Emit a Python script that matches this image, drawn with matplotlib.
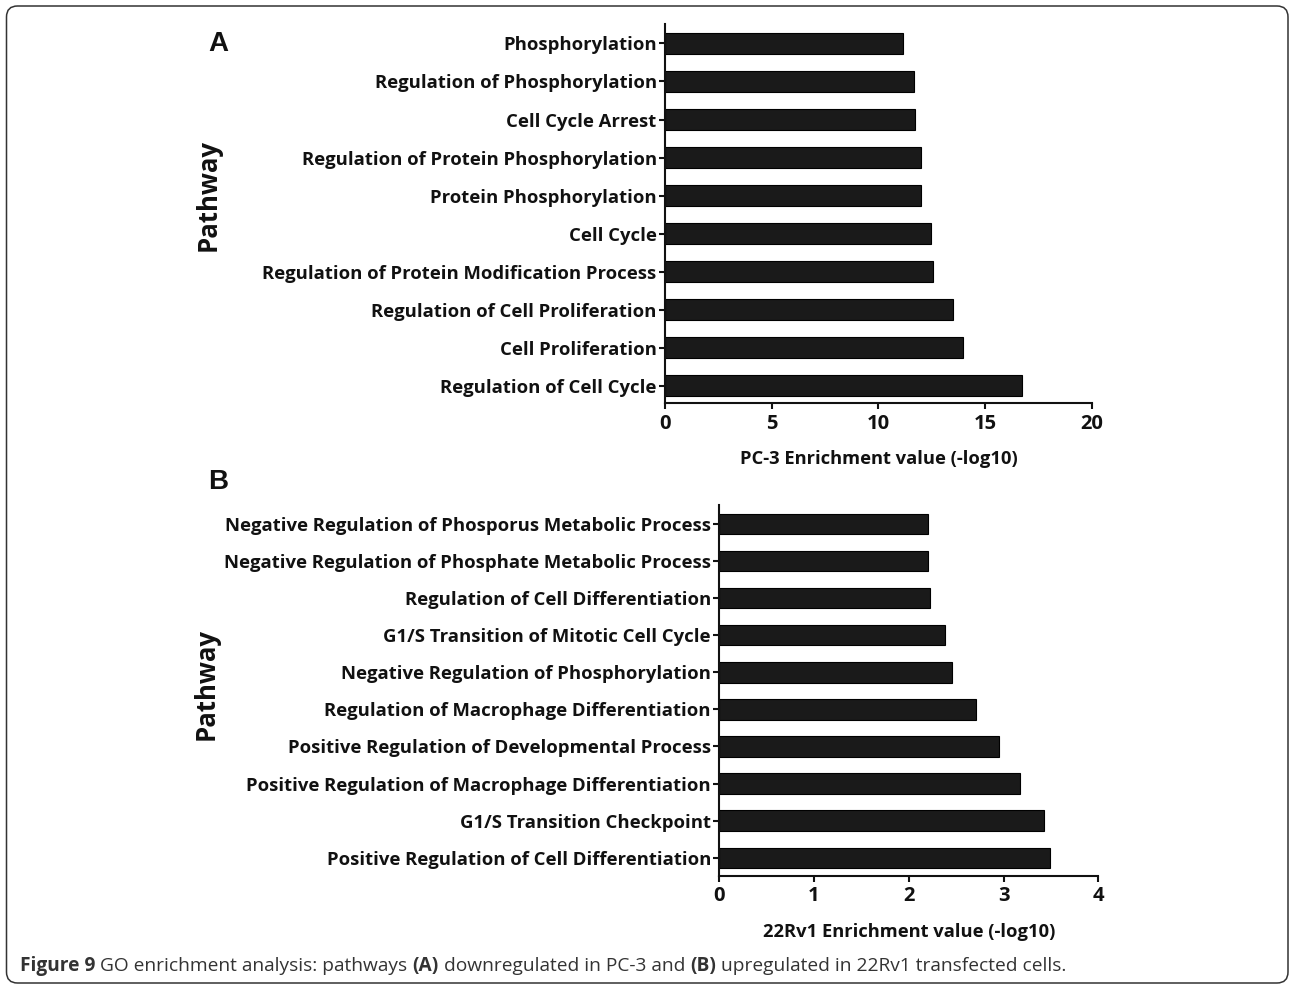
import matplotlib
matplotlib.use("Agg")
import matplotlib.pyplot as plt
from matplotlib.patches import FancyBboxPatch

# ---- data ----
pc3_pathways = [
    "Regulation of Cell Cycle",
    "Cell Proliferation",
    "Regulation of Cell Proliferation",
    "Regulation of Protein Modification Process",
    "Cell Cycle",
    "Protein Phosphorylation",
    "Regulation of Protein Phosphorylation",
    "Cell Cycle Arrest",
    "Regulation of Phosphorylation",
    "Phosphorylation",
]
pc3_values = [16.74, 13.95, 13.5, 12.56, 12.44, 11.98, 11.98, 11.73, 11.64, 11.17]
pc3_ticks = [0, 5, 10, 15, 20]

rv1_pathways = [
    "Positive Regulation of Cell Differentiation",
    "G1/S Transition Checkpoint",
    "Positive Regulation of Macrophage Differentiation",
    "Positive Regulation of Developmental Process",
    "Regulation of Macrophage Differentiation",
    "Negative Regulation of Phosphorylation",
    "G1/S Transition of Mitotic Cell Cycle",
    "Regulation of Cell Differentiation",
    "Negative Regulation of Phosphate Metabolic Process",
    "Negative Regulation of Phosporus Metabolic Process",
]
rv1_values = [3.49, 3.43, 3.17, 2.95, 2.71, 2.46, 2.38, 2.22, 2.20, 2.20]
rv1_ticks = [0, 1, 2, 3, 4]

FONT = ["Open Sans", "DejaVu Sans"]
plt.rcParams["font.family"] = FONT

fig = plt.figure(figsize=(12.9, 9.85), dpi=100)

def panel(rect, cats, vals, ticks, xlabel, ylim):
    ax = fig.add_axes(rect)
    y = list(range(len(cats)))
    ax.barh(y, vals, height=0.55, color="#1a1a1a", edgecolor="#000000", linewidth=0.8)
    ax.set_xlim(ticks[0], ticks[-1])
    ax.set_ylim(*ylim)
    ax.set_yticks(y)
    ax.set_yticklabels(cats, fontsize=13.3, fontweight="bold", color="#111111")
    ax.set_xticks(ticks)
    ax.set_xticklabels([str(t) for t in ticks], fontsize=14.5, fontweight="bold", color="#111111")
    ax.spines["top"].set_visible(False)
    ax.spines["right"].set_visible(False)
    for s in ("left", "bottom"):
        ax.spines[s].set_linewidth(1.5)
        ax.spines[s].set_color("#111111")
    ax.tick_params(axis="both", direction="out", width=1.5, length=4.5, color="#111111")
    ax.tick_params(axis="x", pad=3)
    ax.tick_params(axis="y", pad=1.5)
    ax.set_xlabel(xlabel, fontsize=13.2, fontweight="bold", color="#111111", labelpad=12)
    return ax

axA = panel([0.5155, 0.5906, 0.331, 0.385], pc3_pathways, pc3_values, pc3_ticks,
            "PC-3 Enrichment value (-log10)", (-0.46, 9.51))
axB = panel([0.5576, 0.1107, 0.2938, 0.3766], rv1_pathways, rv1_values, rv1_ticks,
            "22Rv1 Enrichment value (-log10)", (-0.49, 9.51))

# Pathway labels
fig.text(208 / 1290, 1 - 195 / 985, "Pathway", rotation=90, ha="center", va="center",
         fontsize=18.5, fontweight="bold", color="#111111")
fig.text(206 / 1290, 1 - 684 / 985, "Pathway", rotation=90, ha="center", va="center",
         fontsize=18.5, fontweight="bold", color="#111111")

# Panel letters
fig.text(208 / 1290, 1 - 44 / 985, "A", ha="left", va="center", fontsize=20,
         fontweight="bold", family=["Liberation Sans", "DejaVu Sans"], color="#111111")
fig.text(208 / 1290, 1 - 482 / 985, "B", ha="left", va="center", fontsize=20,
         fontweight="bold", family=["Liberation Sans", "DejaVu Sans"], color="#111111")

# Frame (in inches, so corners are round)
frame = FancyBboxPatch((0.065, 0.02), 12.815, 9.77,
                       boxstyle="round,pad=0,rounding_size=0.11",
                       transform=fig.dpi_scale_trans, fill=False,
                       edgecolor="#333333", linewidth=1.1, clip_on=False)
fig.patches.append(frame)

# Caption
cy = 1 - 966 / 985
CAP = 13.8
fig.canvas.draw()
r = fig.canvas.get_renderer()
parts = [("Figure 9", "bold"), ("GO enrichment analysis: pathways", "normal"), ("(A)", "bold"),
         ("downregulated in PC-3 and", "normal"), ("(B)", "bold"),
         ("upregulated in 22Rv1 transfected cells.", "normal")]
x = 20
for s, w in parts:
    t = fig.text(x / 1290, cy, s, ha="left", va="center", fontsize=CAP,
                 fontweight=w, color="#333333")
    bb = t.get_window_extent(r)
    x = bb.x1 + 5

fig.savefig("out.png", dpi=100)
